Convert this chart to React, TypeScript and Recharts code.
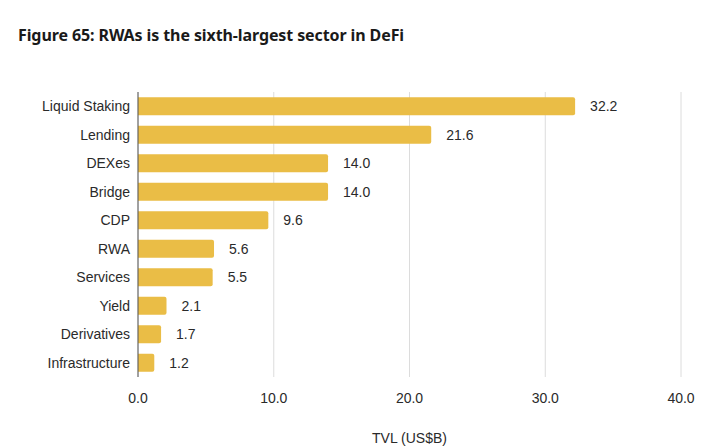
import { BarChart, Bar, XAxis, YAxis, CartesianGrid, LabelList, Label } from "recharts";

const sectors = [
  "Liquid Staking", "Lending", "DEXes", "Bridge", "CDP",
  "RWA", "Services", "Yield", "Derivatives", "Infrastructure",
];
const tvl = [32.2, 21.6, 14.0, 14.0, 9.6, 5.6, 5.5, 2.1, 1.7, 1.2];
const xTicks = [0, 10, 20, 30, 40];

const data = sectors.map((s, i) => ({ sector: s, tvl: tvl[i] }));

const font = "'Liberation Sans', Arial, Helvetica, sans-serif";

export default function App() {
  return (
    <div style={{ position: "absolute", left: 0, top: 0, width: 704, height: 448, background: "#fff" }}>
      <div
        style={{
          position: "absolute", left: 18, top: 24, fontFamily: "'Noto Sans', sans-serif",
          fontWeight: 700, fontSize: 16, color: "#1a1a1a", letterSpacing: -0.1,
        }}
      >
        Figure 65: RWAs is the sixth-largest sector in DeFi
      </div>
      <BarChart
        width={704}
        height={448}
        data={data}
        layout="vertical"
        barCategoryGap="18%"
        margin={{ top: 92, right: 23, left: 0, bottom: 0 }}
      >
        <CartesianGrid horizontal={false} stroke="#dcdcdc" />
        <XAxis
          type="number"
          domain={[0, 40]}
          ticks={xTicks}
          height={71}
          tickFormatter={(v) => v.toFixed(1)}
          axisLine={false}
          tickLine={false}
          tickMargin={10}
          tick={{ fontSize: 14, fill: "#2a2a2a", fontFamily: font }}
        >
          <Label value="TVL (US$B)" position="insideBottom" offset={5} style={{ fontSize: 14, fill: "#2a2a2a", fontFamily: font }} />
        </XAxis>
        <YAxis
          type="category"
          dataKey="sector"
          width={138}
          axisLine={{ stroke: "#555" }}
          tickLine={false}
          tickMargin={2}
          tick={{ fontSize: 14, fill: "#2a2a2a", fontFamily: font }}
        />
        <Bar dataKey="tvl" fill="#EABD46" radius={[0, 2, 2, 0]} isAnimationActive={false}>
          <LabelList
            dataKey="tvl"
            position="right"
            offset={15}
            formatter={(v: number) => v.toFixed(1)}
            style={{ fontSize: 14, fill: "#2a2a2a", fontFamily: font }}
          />
        </Bar>
      </BarChart>
    </div>
  );
}
